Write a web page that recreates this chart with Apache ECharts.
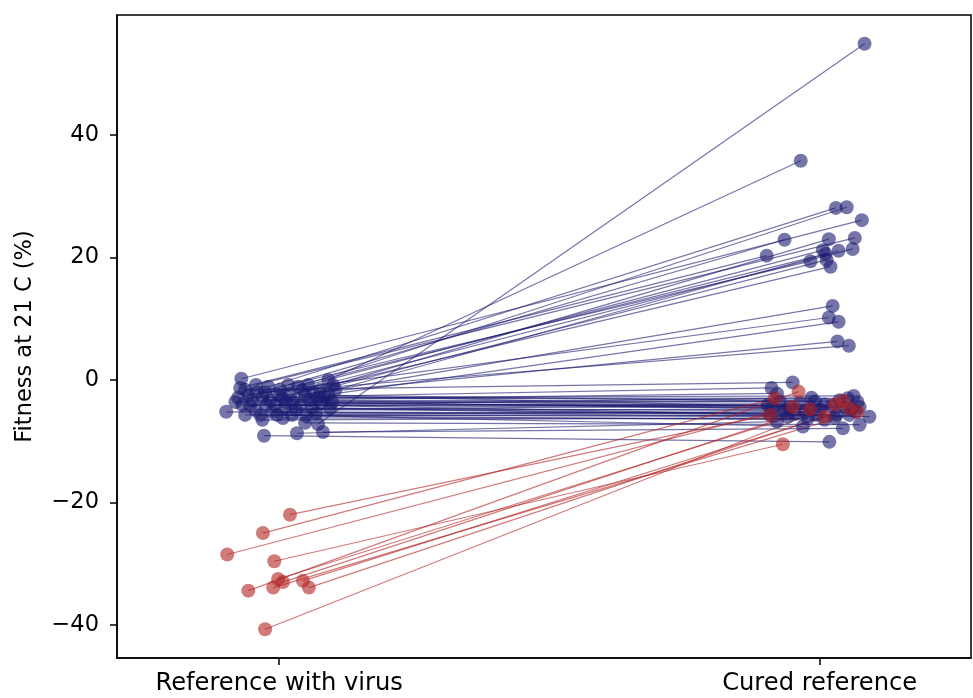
<!DOCTYPE html>
<html>
<head>
<meta charset="utf-8">
<script src="https://cdn.jsdelivr.net/npm/echarts@6/dist/echarts.min.js"></script>
<style>html,body{margin:0;padding:0;background:#fff}#c{width:973px;height:698px}</style>
</head>
<body>
<div id="c"></div>
<script>
// Categories (x positions 0 and 1)
const categories = ['Reference with virus', 'Cured reference'];
const yTicks = [-40, -20, 0, 20, 40];

// Blue pairs (jitter offsets around category position, fitness values)
const blueLeftJitter = [0.072,0.091,-0.020,0.035,-0.070,0.017,0.100,-0.043,-0.072,0.054,0.002,0.104,0.043,-0.041,0.076,0.020,0.048,-0.057,0.091,0.063,-0.026,
  -0.063,-0.076,-0.068,-0.098,-0.050,-0.035,-0.004,0.048,0.081,0.033,-0.028,-0.054,-0.044,-0.031,-0.017,-0.007,0.006,0.011,0.026,0.039,0.057,0.061,0.072,0.079,0.098,0.094,-0.013,0.024,0.068,-0.081,0.031,-0.002,-0.024,0.083,0.013,-0.031,0.050,0.007,-0.063];
const blueLeftY = [-7.2,0.0,-1.1,-1.1,0.2,-0.8,-0.8,-0.8,-1.3,-0.8,-1.6,-1.6,-1.6,-2.0,-1.6,-2.4,-2.4,-2.4,-2.4,-2.1,-2.0,
  -1.6,-2.9,-4.1,-5.2,-3.3,-5.7,-5.7,-7.0,-8.5,-8.7,-9.1,-4.1,-4.9,-2.9,-3.3,-4.1,-2.9,-4.6,-3.6,-4.1,-3.3,-4.6,-2.9,-3.8,-3.6,-4.6,-5.2,-5.7,-5.4,-3.6,-4.9,-2.4,-4.1,-2.6,-3.6,-6.5,-5.9,-6.2,-5.7];
const blueRightJitter = [0.083,-0.035,0.030,0.050,0.078,-0.065,0.017,0.065,-0.098,0.006,0.011,0.035,0.061,-0.017,0.013,0.020,0.024,0.017,0.035,0.033,0.054,
  -0.050,-0.089,-0.015,0.092,-0.079,0.055,-0.031,0.074,0.043,-0.079,0.018,0.009,-0.096,0.063,0.074,-0.087,0.052,-0.092,-0.018,-0.006,-0.074,0.031,0.037,-0.055,-0.037,-0.065,-0.046,-0.028,0.067,-0.009,0.000,0.070,0.022,0.046,0.059,0.028,0.009,-0.022,-0.059];
const blueRightY = [54.9,35.8,28.1,28.2,26.1,22.9,23.0,23.2,20.3,21.2,20.6,21.1,21.4,19.4,19.6,18.5,12.1,10.2,9.5,6.3,5.6,
  -0.4,-1.3,-2.9,-6.0,-2.2,-5.7,-7.6,-7.3,-7.9,-6.8,-10.1,-4.0,-4.1,-2.6,-4.4,-4.6,-3.0,-5.7,-4.6,-5.7,-3.5,-5.7,-3.3,-4.4,-3.8,-5.0,-5.5,-5.2,-5.2,-3.5,-4.8,-3.6,-4.2,-4.5,-4.8,-6.2,-6.5,-6.3,-6.0];

// Red pairs
const redLeftJitter = [0.020,-0.030,-0.096,-0.009,-0.002,-0.011,-0.057,0.044,0.055,-0.026,0.007];
const redLeftY = [-22.0,-25.0,-28.5,-29.6,-32.5,-33.9,-34.4,-32.8,-33.9,-40.7,-33.0];
const redRightJitter = [-0.092,-0.083,-0.050,-0.068,0.043,0.070,-0.039,0.009,0.055,0.028,-0.018];
const redRightY = [-5.7,-3.0,-4.4,-10.5,-3.4,-5.2,-1.9,-6.0,-4.6,-4.0,-4.8];

const BLUE = '#191970', RED = '#b22222';
const FONT = 'DejaVu Sans';

function pairs(lj, ly, rj, ry) {
  const pts = [], segs = [];
  for (let i = 0; i < ly.length; i++) {
    const a = [0 + lj[i], ly[i]], b = [1 + rj[i], ry[i]];
    pts.push(a, b);
    segs.push({ coords: [a, b] });
  }
  return { pts, segs };
}
const blue = pairs(blueLeftJitter, blueLeftY, blueRightJitter, blueRightY);
const red = pairs(redLeftJitter, redLeftY, redRightJitter, redRightY);

const chart = echarts.init(document.getElementById('c'), null, { renderer: 'canvas' });
chart.setOption({
  animation: false,
  backgroundColor: '#fff',
  grid: { left: 117, right: 2, top: 15, bottom: 40, show: true, borderColor: '#000', borderWidth: 1.5, backgroundColor: 'transparent' },
  xAxis: {
    type: 'value', min: -0.3, max: 1.28,
    splitLine: { show: false },
    axisLine: { show: true, onZero: false, lineStyle: { color: '#000', width: 1.5 } },
    axisTick: { show: true, inside: false, length: 7, customValues: [0, 1], lineStyle: { color: '#000', width: 1.5 } },
    axisLabel: { customValues: [0, 1], formatter: v => categories[Math.round(v)], color: '#000', fontFamily: FONT, fontSize: 24.2, margin: 14 }
  },
  yAxis: {
    type: 'value', min: -45.4, max: 59.6,
    name: 'Fitness at 21 C (%)', nameLocation: 'middle', nameGap: 80,
    nameTextStyle: { color: '#000', fontFamily: FONT, fontSize: 22.5 },
    splitLine: { show: false },
    axisLine: { show: true, onZero: false, lineStyle: { color: '#000', width: 1.5 } },
    axisTick: { show: true, inside: false, length: 7, customValues: yTicks, lineStyle: { color: '#000', width: 1.5 } },
    axisLabel: { customValues: yTicks, formatter: v => String(v).replace('-', '\u2212'), color: '#000', fontFamily: FONT, fontSize: 22.5, margin: 18 }
  },
  series: [
    { type: 'lines', coordinateSystem: 'cartesian2d', data: blue.segs, z: 2, silent: true,
      lineStyle: { color: BLUE, width: 1.2, opacity: 0.6 } },
    { type: 'lines', coordinateSystem: 'cartesian2d', data: red.segs, z: 2, silent: true,
      lineStyle: { color: RED, width: 1.2, opacity: 0.6 } },
    { type: 'scatter', data: blue.pts, symbolSize: 14, z: 3, silent: true,
      itemStyle: { color: BLUE, opacity: 0.6 } },
    { type: 'scatter', data: red.pts, symbolSize: 14, z: 3, silent: true,
      itemStyle: { color: RED, opacity: 0.6 } }
  ]
});
</script>
</body>
</html>
